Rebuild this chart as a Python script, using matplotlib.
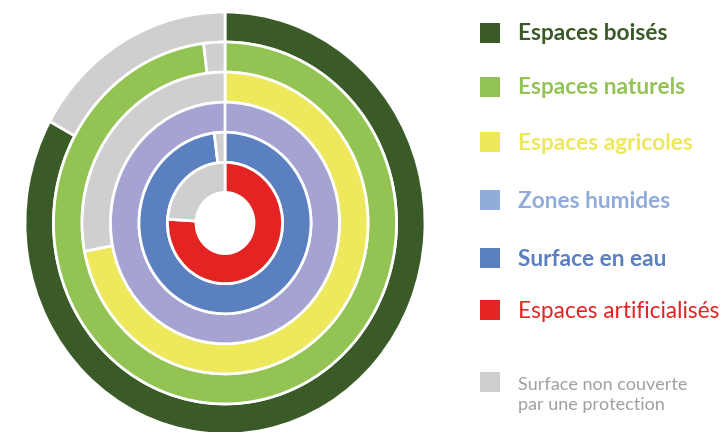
import matplotlib

matplotlib.use("Agg")
import matplotlib.pyplot as plt
from matplotlib.patches import Rectangle

# share of each land type covered by a protection (%), outer ring first
categories = [
    "Espaces boisés",
    "Espaces naturels",
    "Espaces agricoles",
    "Zones humides",
    "Surface en eau",
    "Espaces artificialisés",
]
covered = [83, 98, 72, 100, 98, 76]
ring_colors = ["#3A5A27", "#92C353", "#EEE85C", "#A5A3D2", "#5B80C0", "#E32422"]
legend_colors = ["#3A5A27", "#92C353", "#EEE85C", "#91ABDB", "#5B80C0", "#E32422"]
bold = [True, True, True, True, True, False]
uncovered_label = "Surface non couverte\npar une protection"
GREY = "#D0CFD0"

W, H = 727, 432
fig = plt.figure(figsize=(W / 100, H / 100), dpi=100)

# chart area (pixel box of the outer ring, slightly taller than wide)
ax = fig.add_axes([25 / W, -2 / H, 400 / W, 422 / H])
pitch = 0.1425
for i, (val, col) in enumerate(zip(covered, ring_colors)):
    ax.pie(
        [val, 100 - val],
        colors=[col, GREY],
        radius=1.0 - i * pitch,
        startangle=90,
        counterclock=False,
        wedgeprops=dict(width=pitch, edgecolor="white", linewidth=2),
    )
ax.set_aspect("auto")
ax.set_xlim(-1, 1)
ax.set_ylim(-1, 1)
ax.axis("off")

# legend drawn by hand: uneven row spacing in the original
row_y = [33, 87, 142, 200, 258, 310]
for y, lab, col, b in zip(row_y, categories, legend_colors, bold):
    fig.add_artist(
        Rectangle((480 / W, 1 - (y + 10) / H), 20 / W, 20 / H,
                  transform=fig.transFigure, color=col, lw=0)
    )
    fig.text(518 / W, 1 - (y + 1) / H, lab, color=col,
             fontsize=16.3 if b else 16.3,
             fontweight="bold" if b else "normal", family="Lato",
             va="center", ha="left")

fig.add_artist(
    Rectangle((480 / W, 1 - 392 / H), 20 / W, 20 / H,
              transform=fig.transFigure, color=GREY, lw=0)
)
fig.text(518 / W, 1 - 395 / H, uncovered_label, color="#A0A0A0",
         fontsize=13, family="Lato", va="center", ha="left",
         linespacing=1.35)

fig.savefig("out.png", dpi=100)
